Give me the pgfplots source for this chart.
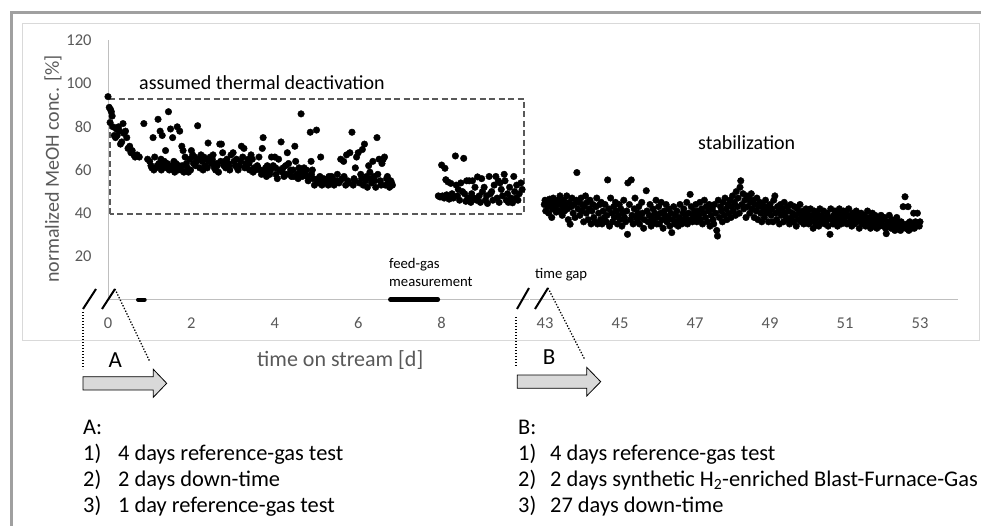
\documentclass[border=0pt]{standalone}
\usepackage{fontspec}
\setmainfont{Carlito}
\usepackage{pgfplots}
\pgfplotsset{compat=1.18}

\definecolor{tickgray}{HTML}{595959}
\definecolor{axgray}{HTML}{BFBFBF}
\definecolor{framegray}{HTML}{D9D9D9}
\definecolor{outergray}{HTML}{A0A0A0}
\definecolor{dashgray}{HTML}{595959}
\definecolor{arrowfill}{HTML}{D9D9D9}

\newcommand{\ticksize}{\fontsize{16.5}{19}\selectfont}
\newcommand{\titlesize}{\fontsize{20}{24}\selectfont}
\newcommand{\xtitlesize}{\fontsize{22}{26}\selectfont}
\newcommand{\smallsize}{\fontsize{14.7}{17}\selectfont}
\newcommand{\listsize}{\fontsize{22.4}{26}\selectfont}

\pgfplotsset{
  brk/.style={
    scale only axis, anchor=south west,
    ymin=0, ymax=120, height=259pt,
    axis line style={-, draw=axgray, line width=1pt},
    tick style={draw=none},
    /pgf/number format/assume math mode=true,
    xticklabel style={anchor=base, yshift=-28.8pt, inner sep=0pt, font=\ticksize, text=tickgray},
    yticklabel style={anchor=east, xshift=-16.3pt, inner sep=0pt, font=\ticksize, text=tickgray},
    clip=false,
  },
  dots/.style={only marks, mark=*, mark size=3.3pt, black},
}

\begin{document}
\begin{tikzpicture}
\useasboundingbox (0pt,0pt) rectangle (981pt,-526pt);
\begin{scope}[x=1pt,y=-1pt]
  \draw[outergray, line width=3.5pt] (11.3,540) -- (11.3,12.5) -- (995,12.5);
  \draw[framegray, line width=1pt] (22.3,23.3) rectangle (979,340);
\end{scope}

% first period, days 0 to 10
\begin{axis}[brk,
  at={(108pt,-299.5pt)}, width=421.2pt,
  xmin=0, xmax=10.1,
  axis x line*=bottom, axis y line*=left,
  xtick={0,2,4,6,8}, ytick={20,40,...,120},
  ylabel={normalized MeOH conc. [\%]},
  ylabel style={at={(axis description cs:-0.1306,0.5039)}, anchor=center, inner sep=0pt, font=\titlesize, text=tickgray},
  xlabel={time on stream [d]},
  xlabel style={at={(axis description cs:0.3537,-0.2568)}, anchor=base west, inner sep=0pt, font=\xtitlesize, text=tickgray},
]
\draw[dashgray, line width=1.6pt, dash pattern=on 6pt off 3.5pt]
  (axis cs:0.05,39.6) rectangle (axis cs:9.98,92.9);
\addplot[line width=4pt, line cap=round, black] coordinates {(0.72,0) (0.88,0)};
\addplot[line width=4.5pt, line cap=round, black] coordinates {(6.77,0) (7.91,0)};
\addplot[dots] coordinates {
(0.00,94) (0.03,89) (0.06,88) (0.08,87) (0.10,85) (0.05,82) (0.12,80) (0.15,76)
(0.18,75) (0.20,79) (0.22,76) (0.25,80) (0.28,78) (0.30,72) (0.33,73) (0.36,81.5)
(0.38,77) (0.42,78) (0.45,75) (0.48,70) (0.52,71) (0.55,68) (0.58,69) (0.62,67)
(0.65,66) (0.70,67) (0.75,66) (0.86,81.5) (0.95,65) (1.00,64) (1.03,62) (1.08,75)
(1.10,60) (1.12,66) (1.15,61) (1.20,83.5) (1.22,63) (1.25,78) (1.28,60) (1.30,76)
(1.32,62) (1.35,64) (1.38,69) (1.40,61) (1.45,87) (1.47,60) (1.50,79) (1.52,62)
(1.55,75) (1.57,61) (1.60,59) (1.63,63) (1.66,80) (1.70,62) (1.72,78) (1.75,60)
(1.77,71) (1.80,69) (1.82,59) (1.85,66) (1.88,63) (1.90,61) (1.93,59) (1.96,65)
(2.00,69) (2.03,67) (2.05,63) (2.08,66) (2.10,62) (2.15,80.5) (2.18,65) (2.20,61)
(2.23,67) (2.26,64) (2.30,66) (2.33,62) (2.36,65) (2.40,72.5) (2.42,64) (2.45,66)
(2.48,63) (2.52,67) (2.55,61) (2.58,60) (2.62,62) (2.65,59) (2.68,72) (2.70,64)
(2.72,72) (2.75,68) (2.78,62) (2.82,61) (2.85,65) (2.88,63) (2.92,60) (2.95,67)
(3.00,68) (3.02,64) (3.05,62) (3.08,65) (3.12,60) (3.15,62) (3.20,71) (3.23,66)
(3.26,70) (3.30,63) (3.33,61) (3.36,65) (3.40,60) (3.43,67) (3.46,65) (3.50,61)
(3.54,60) (3.58,62) (3.62,66) (3.65,60) (3.70,70) (3.72,75) (3.75,59) (3.78,61)
(3.80,57) (3.84,60) (3.88,58) (3.92,66) (3.96,62) (4.00,66) (4.03,58) (4.06,56)
(4.09,65) (4.12,60) (4.15,73) (4.18,59) (4.22,57) (4.26,62) (4.30,68) (4.33,63)
(4.36,58) (4.40,57) (4.44,60) (4.48,71) (4.50,64) (4.53,58) (4.56,56) (4.60,59)
(4.63,86) (4.66,57) (4.70,61) (4.73,58) (4.76,60) (4.80,55) (4.85,77.5) (4.87,64)
(4.90,60) (4.92,56) (4.95,53) (5.00,78.5) (5.02,55) (5.05,54) (5.08,57) (5.10,66)
(5.13,53) (5.17,56) (5.20,54) (5.25,55) (5.30,57) (5.34,54) (5.38,56) (5.42,53)
(5.46,55) (5.50,58) (5.54,54) (5.58,65) (5.62,56) (5.65,64) (5.70,53) (5.72,67)
(5.75,55) (5.80,68) (5.85,77.5) (5.88,53) (5.90,56) (5.93,61) (5.96,66) (6.00,68)
(6.03,54) (6.06,58) (6.10,69.5) (6.12,53) (6.15,72) (6.18,55) (6.22,52) (6.25,62)
(6.28,59) (6.32,54) (6.35,64) (6.38,57) (6.42,52) (6.45,75) (6.47,58) (6.50,65)
(6.53,55) (6.57,63) (6.60,65) (6.63,66) (6.65,53) (6.68,56) (6.72,54) (6.75,52)
(6.78,55) (6.82,53)
(1.05,61) (1.18,62) (1.27,65) (1.42,63) (1.58,64) (1.68,60) (1.78,62) (1.98,60)
(2.12,64) (2.28,60) (2.38,61) (2.50,65) (2.60,63) (2.80,64) (2.90,62) (3.10,61)
(3.18,64) (3.28,61) (3.38,63) (3.48,59) (3.60,61) (3.68,58) (3.82,62) (3.90,60)
(4.02,61) (4.20,61) (4.28,58) (4.38,60) (4.46,57) (4.58,61) (4.68,59) (4.78,57)
(4.88,58) (5.04,56) (5.15,55) (5.28,53) (5.36,57) (5.48,54) (5.56,55) (5.66,57)
(5.78,54) (5.92,55) (6.08,56) (6.20,57) (6.30,56) (6.40,55) (6.55,53) (6.70,57)
(6.80,54)
};
\addplot[dots] coordinates {
(7.92,48) (7.96,47.5) (8.00,62.3) (8.02,48) (8.06,47) (8.08,60.8) (8.10,55.5) (8.12,48.5)
(8.15,54.5) (8.18,46.5) (8.22,53.8) (8.25,49) (8.28,47) (8.33,66.5) (8.35,53) (8.38,48)
(8.40,51) (8.43,46) (8.46,54) (8.50,50) (8.53,65.4) (8.55,49) (8.58,45.5) (8.60,55)
(8.63,47) (8.66,55) (8.70,45) (8.72,49) (8.74,55) (8.78,47) (8.80,52) (8.84,46)
(8.86,56.8) (8.90,48) (8.93,45) (8.96,56) (8.98,50) (9.02,52) (9.05,46) (9.08,48)
(9.10,44.5) (9.14,57) (9.17,49) (9.20,50) (9.23,46) (9.26,53) (9.30,57) (9.33,47)
(9.36,55) (9.38,45) (9.40,54) (9.43,51) (9.46,48) (9.50,58) (9.52,55) (9.55,46)
(9.58,49) (9.60,45) (9.63,52) (9.66,47) (9.70,44.8) (9.73,57) (9.75,50) (9.78,47)
(9.80,53) (9.83,46) (9.86,49) (9.90,54) (9.93,51)
};
\end{axis}

% second period, days 43 to 53
\begin{axis}[brk,
  at={(530pt,-299.5pt)}, width=427.5pt,
  xmin=42.6, xmax=54,
  axis x line*=bottom, axis y line=none,
  xtick={43,45,...,53}, ytick=\empty,
]
\addplot[dots] coordinates {
(42.98,44) (43.00,46) (43.02,41) (43.05,45) (43.08,43) (43.10,40) (43.12,46.5) (43.15,44)
(43.18,38) (43.20,42) (43.22,47) (43.25,45) (43.28,43) (43.30,40.5) (43.33,46) (43.36,44)
(43.38,41) (43.40,48) (43.43,45) (43.46,39) (43.48,43)
(43.50,46) (43.52,41) (43.55,44) (43.58,48) (43.60,42) (43.62,37) (43.65,45) (43.67,34.9)
(43.70,43) (43.72,47) (43.75,40) (43.78,44) (43.80,38) (43.83,46) (43.85,58.8) (43.88,42)
(43.90,45) (43.93,39) (43.96,47) (43.98,41)
(44.00,44) (44.03,36) (44.05,43) (44.08,48) (44.10,40) (44.12,45) (44.15,37) (44.18,42)
(44.20,46) (44.23,35) (44.25,41) (44.28,44) (44.30,38) (44.33,36) (44.36,43) (44.38,47)
(44.40,35) (44.43,40) (44.46,44) (44.48,37)
(44.50,45) (44.52,35) (44.55,41) (44.58,38) (44.60,44) (44.63,36) (44.65,39) (44.67,55.4)
(44.70,42) (44.72,34) (44.75,47) (44.78,40) (44.80,36) (44.83,43) (44.85,38) (44.88,45)
(44.90,41) (44.93,35) (44.96,39) (44.98,44)
(45.00,37) (45.02,42) (45.05,34) (45.08,40) (45.10,46) (45.12,38) (45.15,36) (45.18,41)
(45.20,30.2) (45.21,54) (45.25,44) (45.28,37) (45.30,55.4) (45.32,39) (45.35,35) (45.38,42)
(45.40,47) (45.43,38) (45.46,36) (45.48,40)
(45.50,43) (45.52,35) (45.55,38) (45.58,45) (45.60,40) (45.63,33) (45.65,37) (45.70,50.4)
(45.72,41) (45.75,36) (45.78,39) (45.80,44) (45.83,34) (45.85,38) (45.88,42) (45.90,36)
(45.93,40) (45.96,46) (45.98,35)
(46.00,38) (46.03,43) (46.05,35) (46.08,40) (46.10,45) (46.13,37) (46.15,33) (46.18,41)
(46.20,39) (46.23,44) (46.25,36) (46.28,38) (46.30,42) (46.33,34) (46.36,40) (46.38,31)
(46.40,37) (46.43,43) (46.46,35) (46.48,39)
(46.50,36) (46.52,41) (46.55,34) (46.58,38) (46.60,44) (46.63,37) (46.65,35) (46.68,40)
(46.70,42) (46.73,36) (46.75,38) (46.78,45) (46.80,35) (46.83,40) (46.87,48.7) (46.88,37)
(46.90,43) (46.93,36) (46.96,39) (46.98,41)
(47.00,38) (47.02,44) (47.05,36) (47.08,41) (47.10,39) (47.13,45) (47.15,37) (47.18,42)
(47.20,35) (47.23,40) (47.25,46) (47.28,38) (47.30,43) (47.33,36) (47.36,41) (47.38,44)
(47.40,34) (47.43,39) (47.46,42) (47.48,37)
(47.50,35) (47.52,44) (47.55,40) (47.58,32) (47.60,29.4) (47.62,46) (47.65,38) (47.68,43)
(47.70,41) (47.73,36) (47.75,45) (47.78,39) (47.80,47) (47.83,42) (47.85,37) (47.88,44)
(47.90,40) (47.93,46) (47.96,38) (47.98,43)
(48.00,48) (48.02,41) (48.05,45) (48.08,39) (48.10,50) (48.13,43) (48.15,47) (48.18,40)
(48.20,52) (48.22,55) (48.25,44) (48.28,49) (48.30,42) (48.33,46) (48.36,38) (48.38,48)
(48.40,43) (48.43,47) (48.46,40) (48.48,45)
(48.50,49) (48.52,42) (48.55,46) (48.58,38) (48.60,44) (48.63,41) (48.65,47) (48.68,37)
(48.70,43) (48.73,45) (48.75,40) (48.78,36) (48.80,44) (48.83,42) (48.85,38) (48.88,46)
(48.90,40) (48.93,43) (48.96,36) (48.98,41)
(49.00,44) (49.03,39) (49.05,42) (49.08,36) (49.10,46) (49.13,48) (49.15,40) (49.18,37)
(49.20,43) (49.23,41) (49.25,35) (49.28,44) (49.30,39) (49.33,42) (49.36,36) (49.38,45)
(49.40,40) (49.43,38) (49.46,43) (49.48,37)
(49.50,41) (49.52,35) (49.55,44) (49.58,38) (49.60,40) (49.63,36) (49.65,43) (49.68,39)
(49.70,34) (49.73,42) (49.75,37) (49.78,40) (49.80,44) (49.83,36) (49.85,38) (49.88,41)
(49.90,35) (49.93,39) (49.96,42) (49.98,37)
(50.00,40) (50.03,35) (50.05,38) (50.08,42) (50.10,36) (50.13,39) (50.15,33) (50.18,41)
(50.20,37) (50.23,35) (50.25,40) (50.28,38) (50.30,34) (50.33,42) (50.36,36) (50.38,39)
(50.40,37) (50.43,41) (50.46,35) (50.48,38)
(50.50,36) (50.52,40) (50.55,34) (50.58,38) (50.60,30.2) (50.62,42) (50.65,37) (50.68,35)
(50.70,39) (50.73,41) (50.75,36) (50.78,38) (50.80,34) (50.83,40) (50.85,42) (50.88,37)
(50.90,35) (50.93,39) (50.96,41) (50.98,36)
(51.00,38) (51.03,41) (51.05,35) (51.08,39) (51.10,42) (51.13,36) (51.15,38) (51.18,34)
(51.20,40) (51.23,37) (51.25,35) (51.28,39) (51.30,41) (51.33,36) (51.36,38) (51.38,33)
(51.40,37) (51.43,40) (51.46,35) (51.48,38)
(51.50,36) (51.52,39) (51.55,34) (51.58,37) (51.60,41) (51.63,35) (51.65,38) (51.68,33)
(51.70,36) (51.73,40) (51.75,34) (51.78,37) (51.80,39) (51.83,35) (51.85,33) (51.88,38)
(51.90,36) (51.93,34) (51.96,39) (51.98,35)
(52.00,37) (52.03,34) (52.05,38) (52.08,33) (52.10,30.5) (52.13,36) (52.15,34) (52.18,39)
(52.20,35) (52.23,33) (52.25,37) (52.28,34) (52.30,36) (52.33,32) (52.36,35) (52.38,38)
(52.40,33) (52.43,36) (52.46,34) (52.48,32)
(52.50,36) (52.52,33) (52.55,43) (52.58,34) (52.60,47.6) (52.62,33) (52.65,35) (52.68,43)
(52.70,32) (52.73,36) (52.75,34) (52.78,33) (52.80,35) (52.83,40) (52.85,33) (52.88,36)
(52.90,34) (52.93,40) (52.96,35) (52.98,34) (53.00,36)
};
\end{axis}

\begin{scope}[x=1pt,y=-1pt]
  % axis breaks
  \draw[black, line width=2pt] (83,309) -- (96,289);
  \draw[black, line width=2pt] (102,309) -- (115,289);
  \draw[black, line width=2pt] (517,309) -- (529,288);
  \draw[black, line width=2pt] (535,309) -- (548,288);
  % zoom guides
  \draw[black, line width=1.3pt, dash pattern=on 1.3pt off 1.7pt] (83,312) -- (83,369);
  \draw[black, line width=1.3pt, dash pattern=on 1.3pt off 1.7pt] (115,289) -- (150,362);
  \draw[black, line width=1.3pt, dash pattern=on 1.3pt off 1.7pt] (516,317) -- (516,367);
  \draw[black, line width=1.3pt, dash pattern=on 1.3pt off 1.7pt] (548,288) -- (585,360);
  % block arrows
  \filldraw[fill=arrowfill, draw=black, line width=0.8pt]
    (83,376.7) -- (153.3,376.7) -- (153.3,369.3) -- (166.7,383.3) -- (153.3,397.3) -- (153.3,390) -- (83,390) -- cycle;
  \filldraw[fill=arrowfill, draw=black, line width=0.8pt]
    (517.3,375) -- (586.7,375) -- (586.7,367.3) -- (600.7,381.7) -- (586.7,396) -- (586.7,388.3) -- (517.3,388.3) -- cycle;
  \node[anchor=base west, inner sep=0pt, font=\fontsize{23}{27}\selectfont] at (108.3,367.3) {A};
  \node[anchor=base west, inner sep=0pt, font=\fontsize{23}{27}\selectfont] at (542.7,364) {B};
  % annotations
  \node[anchor=base west, inner sep=0pt, font=\titlesize] at (139,89.5) {assumed thermal deactivation};
  \node[anchor=base west, inner sep=0pt, font=\titlesize] at (698,150) {stabilization};
  \node[anchor=base west, inner sep=0pt, font=\smallsize] at (389,268.3) {feed-gas};
  \node[anchor=base west, inner sep=0pt, font=\smallsize] at (389,286.7) {measurement};
  \node[anchor=base west, inner sep=0pt, font=\smallsize] at (535,278.3) {time gap};
  % legends of the breaks
  \begin{scope}[every node/.style={anchor=base west, inner sep=0pt, font=\listsize}]
    \node at (83,434.3) {A:};
    \node at (83,460.3) {1)};  \node at (118,460.3) {4 days reference-gas test};
    \node at (83,486.5) {2)};  \node at (118,486.5) {2 days down-time};
    \node at (83,512.7) {3)};  \node at (118,512.7) {1 day reference-gas test};
    \node at (518,434.3) {B:};
    \node at (518,460.3) {1)}; \node at (550,460.3) {4 days reference-gas test};
    \node at (518,486.5) {2)}; \node at (550,486.5) {2 days synthetic H\textsubscript{2}-enriched Blast-Furnace-Gas};
    \node at (518,512.7) {3)}; \node at (550,512.7) {27 days down-time};
  \end{scope}
\end{scope}
\end{tikzpicture}
\end{document}
